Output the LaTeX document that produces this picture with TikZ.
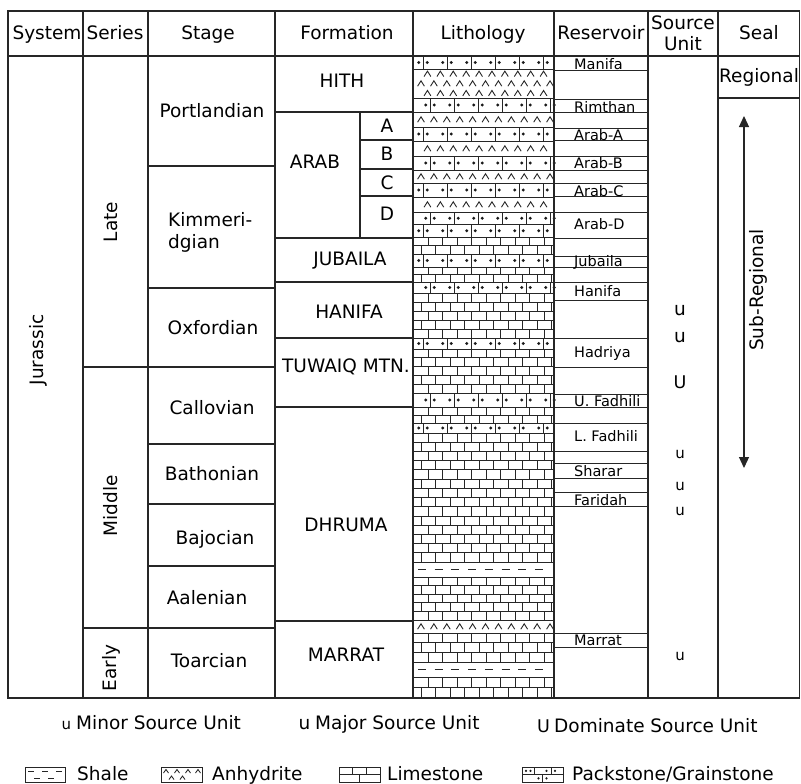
\documentclass[tikz,border=0pt]{standalone}
\usepackage{fontspec}
\setmainfont{DejaVu Sans}
\usetikzlibrary{arrows.meta}

\tikzset{
  grid/.style={line width=1.1pt, draw=black!85},
  pat/.style={line width=0.85pt, draw=black!85},
  lbl/.style={font=\fontsize{18.5}{21}\selectfont, inner sep=0pt, anchor=base},
  rlbl/.style={font=\fontsize{14.5}{17}\selectfont, inner sep=0pt, anchor=base west},
  rot/.style={font=\fontsize{18.5}{21}\selectfont, inner sep=0pt, rotate=90},
  umin/.style={font=\fontsize{15}{17}\selectfont, inner sep=0pt, anchor=base},
  umaj/.style={font=\fontsize{18.5}{21}\selectfont, inner sep=0pt, anchor=base},
  udom/.style={font=\fontsize{17.5}{20}\selectfont, inner sep=0pt, anchor=base},
  leg/.style={font=\fontsize{18.5}{21}\selectfont, inner sep=0pt, anchor=base west},
}

% limestone: y1 y2 rows
\newcommand{\limest}[3]{%
  \foreach \i in {1,...,#3}{%
    \pgfmathsetmacro{\ya}{#1+(\i-1)*(#2-#1)/#3}%
    \pgfmathsetmacro{\yb}{#1+\i*(#2-#1)/#3}%
    \pgfmathsetmacro{\off}{mod(\i,2)*7.25}%
    \ifnum\i>1 \draw[pat] (414,\ya) -- (554,\ya);\fi
    \foreach \k in {0,...,9}{%
      \pgfmathsetmacro{\xx}{421+\off+\k*14.5}%
      \ifdim\xx pt<552pt \draw[pat] (\xx,\ya) -- (\xx,\yb);\fi
    }%
  }}
% packstone: y1 y2 rows phase
\newcommand{\packst}[4]{%
  \foreach \i in {1,...,#3}{%
    \pgfmathsetmacro{\ya}{#1+(\i-1)*(#2-#1)/#3}%
    \pgfmathsetmacro{\yb}{#1+\i*(#2-#1)/#3}%
    \pgfmathsetmacro{\ym}{(\ya+\yb)/2}%
    \pgfmathsetmacro{\off}{mod(\i+#4,2)*7}%
    \ifnum\i>1 \draw[pat] (414,\ya) -- (554,\ya);\fi
    \foreach \k in {0,...,5}{%
      \pgfmathsetmacro{\xx}{423+\off+\k*24}%
      \draw[pat] (\xx,\ya) -- (\xx,\yb);
      \fill[black!90] ({\xx-4.3},\ym) circle[radius=1.6pt] ({\xx+4.3},\ym) circle[radius=1.6pt];
    }%
  }}
% anhydrite: y1 y2 rows phase
\newcommand{\anhy}[4]{%
  \foreach \i in {1,...,#3}{%
    \pgfmathsetmacro{\ym}{#1+(\i-0.5)*(#2-#1)/#3}%
    \pgfmathsetmacro{\off}{mod(\i+#4,2)*6.45}%
    \foreach \k in {0,...,10}{%
      \pgfmathsetmacro{\xx}{421+\off+\k*12.9}%
      \ifdim\xx pt<551pt \draw[pat, line width=0.9pt] ({\xx-3.4},{\ym+2.7}) -- (\xx,{\ym-2.7}) -- ({\xx+3.4},{\ym+2.7});\fi
    }%
  }}
% shale: y1 y2
\newcommand{\shale}[2]{%
  \pgfmathsetmacro{\ym}{(#1+#2)/2}%
  \foreach \k in {0,...,7}{\draw[pat] ({418+\k*16.7},\ym) -- ({426+\k*16.7},\ym);}}

\begin{document}
\begin{tikzpicture}[x=1pt,y=-1pt]
\useasboundingbox (0,0) rectangle (801,784);
\fill[white] (0,0) rectangle (801,784);

% ---------- lithology patterns ----------
\packst{56}{69}{1}{1}
\anhy{69}{98}{3}{0}
\packst{98}{112}{1}{0}
\anhy{112}{127}{1}{1}
\packst{127}{141}{1}{1}
\anhy{141}{156}{1}{0}
\packst{156}{170}{1}{0}
\anhy{170}{183}{1}{1}
\packst{183}{197}{1}{1}
\anhy{197}{212}{1}{0}
\packst{212}{237}{2}{0}
\limest{237}{254}{2}
\packst{254}{267}{1}{1}
\limest{267}{282}{2}
\packst{282}{293}{1}{0}
\limest{293}{338}{5}
\packst{338}{349}{1}{1}
\limest{349}{393}{5}
\packst{393}{407}{1}{0}
\limest{407}{423}{2}
\packst{423}{433}{1}{1}
\limest{433}{562}{14}
\shale{562}{577}
\limest{577}{620}{5}
\anhy{620}{633}{1}{1}
\limest{633}{662}{3}
\shale{662}{677}
\limest{677}{698}{2}
\foreach \y in {69,98,112,127,141,156,170,183,197,212,237,254,267,282,293,338,349,393,407,423,433,562,577,620,633,662,677}
  {\draw[pat] (414,\y) -- (554,\y);}

% ---------- table grid ----------
\draw[grid] (8,11) rectangle (799.5,698);
\draw[grid] (8,56) -- (799.5,56);
\foreach \x in {83,148,275,413,554,648,718} {\draw[grid] (\x,11) -- (\x,698);}
\foreach \y in {367,628} {\draw[grid] (83,\y) -- (148,\y);}
\foreach \y in {166,288,367,444,504,566,628} {\draw[grid] (148,\y) -- (275,\y);}
\foreach \y in {112,238,282,338,407,621} {\draw[grid] (275,\y) -- (413,\y);}
\draw[grid] (360,112) -- (360,238);
\foreach \y in {140,169,196} {\draw[grid] (360,\y) -- (413,\y);}
\foreach \y in {70,99,112,128,140,156,170,183,196,212,238,256,267,282,300,338,367,394,407,423,451,463,478,492,506,633,647}
  {\draw[grid, line width=0.9pt] (554,\y) -- (648,\y);}
\draw[grid] (718,98) -- (799.5,98);

% ---------- header ----------
\node[lbl] (hSys) at (47,40) {System};
\node[lbl] (hSer) at (115,40) {Series};
\node[lbl] (hSta) at (208,40) {Stage};
\node[lbl] (hFor) at (347,40) {Formation};
\node[lbl] (hLit) at (483,40) {Lithology};
\node[lbl] (hRes) at (601,40) {Reservoir};
\node[font=\fontsize{18.5}{21}\selectfont, inner sep=0pt, align=center] (hSrc) at (683,33.5) {Source\\Unit};
\node[lbl] (hSeal) at (759,40) {Seal};

% ---------- system / series ----------
\node[rot] (sJur) at (38,350) {Jurassic};
\node[rot] (sLate) at (111,222) {Late};
\node[rot] (sMid) at (111,506) {Middle};
\node[rot] (sEarly) at (111,668) {Early};

% ---------- stages ----------
\node[lbl] (stPort) at (212,117.8) {Portlandian};
\node[lbl, anchor=base west] (stKim1) at (168,226) {Kimmeri-};
\node[lbl, anchor=base west] (stKim2) at (168,248) {dgian};
\node[lbl] (stOxf) at (213,334) {Oxfordian};
\node[lbl] (stCal) at (212,414) {Callovian};
\node[lbl] (stBat) at (212,480) {Bathonian};
\node[lbl] (stBaj) at (215,544) {Bajocian};
\node[lbl] (stAal) at (207,604) {Aalenian};
\node[lbl] (stToa) at (209,667) {Toarcian};

% ---------- formations ----------
\node[lbl] (fHith) at (342,87.8) {HITH};
\node[lbl] (fArab) at (315,168.8) {ARAB};
\node[lbl] (fA) at (387,132.8) {A};
\node[lbl] (fB) at (387,160.8) {B};
\node[lbl] (fC) at (387,189.8) {C};
\node[lbl] (fD) at (387,220.8) {D};
\node[lbl] (fJub) at (350,265.5) {JUBAILA};
\node[lbl] (fHan) at (349,318) {HANIFA};
\node[lbl] (fTuw) at (346,372) {TUWAIQ MTN.};
\node[lbl] (fDhr) at (346,531) {DHRUMA};
\node[lbl] (fMar) at (346,661) {MARRAT};

% ---------- reservoirs ----------
\node[rlbl] (rMan) at (574,69.5) {Manifa};
\node[rlbl] (rRim) at (574,112) {Rimthan};
\node[rlbl] (rAA) at (574,140.5) {Arab-A};
\node[rlbl] (rAB) at (574,168.5) {Arab-B};
\node[rlbl] (rAC) at (574,196) {Arab-C};
\node[rlbl] (rAD) at (574,229) {Arab-D};
\node[rlbl] (rJub) at (574,266) {Jubaila};
\node[rlbl] (rHan) at (574,296) {Hanifa};
\node[rlbl] (rHad) at (574,357) {Hadriya};
\node[rlbl] (rUF) at (574,406.5) {U. Fadhili};
\node[rlbl] (rLF) at (574,441.5) {L. Fadhili};
\node[rlbl] (rSha) at (574,476.5) {Sharar};
\node[rlbl] (rFar) at (574,505) {Faridah};
\node[rlbl] (rMrt) at (574,645) {Marrat};

% ---------- source units ----------
\node[umaj] (u1) at (680,315) {u};
\node[umaj] (u2) at (680,342) {u};
\node[udom] (u3) at (680,388) {U};
\node[umin] (u4) at (680,458) {u};
\node[umin] (u5) at (680,490) {u};
\node[umin] (u6) at (680,515) {u};
\node[umin] (u7) at (680,660.5) {u};

% ---------- seal ----------
\node[lbl] (sealReg) at (759,83) {Regional};
\coordinate (aTop) at (744,116);
\coordinate (aBot) at (744,468);
\draw[line width=1.2pt, black!85, {Triangle[length=11pt,width=10pt]}-{Triangle[length=11pt,width=10pt]}] (aTop) -- (aBot);
\node[rot] (sealSub) at (758,290) {Sub-Regional};

% ---------- legend row 1 ----------
\node[umin, anchor=base west] (lu1) at (61.5,729) {u};
\node[leg] (lt1) at (76,729) {Minor Source Unit};
\node[umaj, anchor=base west] (lu2) at (298.5,729) {u};
\node[leg] (lt2) at (315,729) {Major Source Unit};
\node[udom, anchor=base west] (lu3) at (537,732) {U};
\node[leg] (lt3) at (554,732) {Dominate Source Unit};

% ---------- legend row 2 ----------
% shale
\draw[pat] (25,767) rectangle (65,782);
\draw[pat] (28,771.5) -- (34,771.5) (42,771.5) -- (48,771.5) (56,771.5) -- (62,771.5);
\draw[pat] (34,778.5) -- (40,778.5) (48,778.5) -- (54,778.5);
\node[leg] (lShale) at (77,780) {Shale};
% anhydrite
\draw[pat] (161,767) rectangle (202,782);
\foreach \xx in {166,177,188,198} {\draw[pat] ({\xx-2.5},773) -- (\xx,769.5) -- ({\xx+2.5},773);}
\foreach \xx in {171.5,182.5} {\draw[pat] ({\xx-2.5},779.5) -- (\xx,776) -- ({\xx+2.5},779.5);}
\node[leg] (lAnh) at (212,780) {Anhydrite};
% limestone
\draw[pat] (339,767) rectangle (380,782);
\draw[pat] (339,774.5) -- (380,774.5);
\draw[pat] (352,767) -- (352,774.5) (366,767) -- (366,774.5) (359,774.5) -- (359,782);
\node[leg] (lLim) at (387,780) {Limestone};
% packstone
\draw[pat] (522,767) rectangle (563,782);
\draw[pat] (522,774.5) -- (563,774.5);
\draw[pat] (534,767) -- (534,774.5) (551,767) -- (551,774.5) (542.5,774.5) -- (542.5,782);
\fill[black!90] (526,770.8) circle[radius=1.2pt] (530.5,770.8) circle[radius=1.2pt]
  (546.5,770.8) circle[radius=1.2pt] (555,770.8) circle[radius=1.2pt]
  (538.5,778.3) circle[radius=1.2pt] (546.5,778.3) circle[radius=1.2pt];
\node[leg] (lPack) at (572,780) {Packstone/Grainstone};
\end{tikzpicture}
\end{document}
